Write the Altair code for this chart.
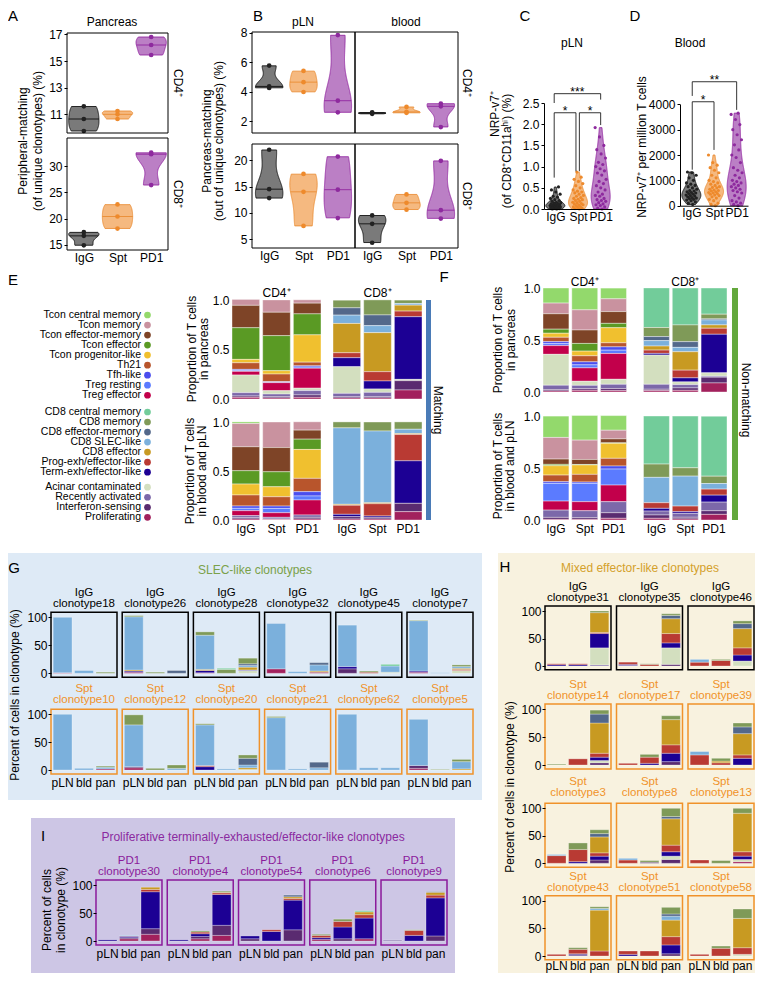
import altair as alt
import pandas as pd

# ------------------------------------------------------------------ layout
W, H = 747, 965
OX, OY = 8, 8
FONT = "Liberation Sans"

# ------------------------------------------------------------------ data
CELL_TYPES = [
    "Tcon central memory", "Tcon memory", "Tcon effector-memory", "Tcon effector",
    "Tcon progenitor-like", "Th21", "Tfh-like", "Treg resting", "Treg effector",
    "CD8 central memory", "CD8 memory", "CD8 effector-memory", "CD8 SLEC-like",
    "CD8 effector", "Prog-exh/effector-like", "Term-exh/effector-like",
    "Acinar contaminated", "Recently activated", "Interferon-sensing", "Proliferating",
]
ABBRS = ["TCM", "TM", "TEM", "TE", "TP", "TH21", "TFH", "TRR", "TRE",
         "C8CM", "C8M", "C8EM", "SLEC", "C8E", "PEX", "TEX",
         "AC", "RA", "IFN", "PRO"]
CELL_COLORS = ["#93d96c", "#c9929f", "#7e4427", "#5a9a24", "#f0c02f", "#b8552c",
               "#4a4dee", "#5b7bff", "#c2004b", "#72cc9a", "#7f9a58", "#53688a",
               "#7bb0dc", "#c89a22", "#b93a33", "#1c0094", "#d3dfbf", "#7c68a9",
               "#5a2b70", "#a2215d"]
GROUPS = ["IgG", "Spt", "PD1"]
GROUP_FILL = ["#222222", "#ee8a2c", "#8e2a9e"]
GROUP_LINE = ["#000000", "#e8862a", "#8b1a9b"]
TISSUES = ["pLN", "bld", "pan"]

# Panel A (pancreas, peripheral-matching %)
A_CD4 = {"IgG": [11.6, 10.65, 9.75], "Spt": [11.25, 11.0, 10.65], "PD1": [16.8, 16.2, 15.45]}
A_CD8 = {"IgG": [17.4, 16.7, 14.9], "Spt": [22.7, 20.4, 18.1], "PD1": [32.6, 32.3, 26.4]}
# Panel B (pancreas-matching %)
B_PLN_CD4 = {"IgG": [5.77, 4.36, 4.25], "Spt": [5.41, 4.65, 3.98], "PD1": [7.84, 3.39, 2.6]}
B_BLD_CD4 = {"IgG": [2.6, 2.55, 2.5], "Spt": [2.97, 2.63, 2.57], "PD1": [3.19, 3.01, 1.6]}
B_PLN_CD8 = {"IgG": [22.0, 14.5, 12.8], "Spt": [17.4, 14.0, 7.5], "PD1": [20.7, 14.4, 9.0]}
B_BLD_CD8 = {"IgG": [9.5, 7.9, 4.3], "Spt": [13.5, 11.9, 10.6], "PD1": [19.9, 10.5, 8.9]}
# Panel C (pLN, NRP-v7+ %)
C_PLN = {
    "IgG": [0.0, 0.0, 0.01, 0.02, 0.03, 0.03, 0.04, 0.05, 0.05, 0.06, 0.07, 0.08, 0.08, 0.09, 0.1, 0.1,
            0.11, 0.12, 0.13, 0.14, 0.15, 0.16, 0.18, 0.2, 0.22, 0.25, 0.28, 0.3, 0.35, 0.4, 0.45, 0.52],
    "Spt": [0.0, 0.01, 0.02, 0.04, 0.05, 0.06, 0.08, 0.1, 0.1, 0.12, 0.13, 0.15, 0.16, 0.18, 0.2, 0.22,
            0.23, 0.25, 0.27, 0.3, 0.32, 0.35, 0.38, 0.4, 0.42, 0.45, 0.5, 0.55, 0.6, 0.65, 0.7, 0.75, 0.87],
    "PD1": [0.0, 0.02, 0.05, 0.08, 0.1, 0.12, 0.15, 0.18, 0.2, 0.22, 0.25, 0.3, 0.32, 0.35, 0.4, 0.45,
            0.5, 0.55, 0.6, 0.65, 0.7, 0.8, 0.85, 0.9, 0.95, 1.0, 1.05, 1.1, 1.2, 1.3, 1.4, 1.5, 1.7, 1.92],
}
# Panel D (blood, NRP-v7+ per million T cells)
D_BLD = {
    "IgG": [50, 100, 150, 200, 220, 250, 280, 300, 320, 350, 380, 400, 420, 450, 480, 500, 520, 550,
            580, 600, 650, 700, 750, 800, 850, 900, 1000, 1100, 1200, 1300, 1330],
    "Spt": [0, 50, 100, 200, 250, 300, 350, 400, 420, 450, 480, 500, 520, 550, 580, 600, 620, 650, 700,
            720, 750, 800, 850, 900, 950, 1000, 1100, 1200, 1300, 1400, 1500, 1600, 1700, 2000],
    "PD1": [0, 50, 100, 150, 200, 300, 400, 500, 550, 600, 650, 700, 750, 800, 850, 900, 950, 1000,
            1100, 1200, 1300, 1400, 1500, 1700, 1900, 2000, 2200, 2400, 2600, 2800, 3000, 3200, 3400,
            3600, 3650],
}
# significance brackets: (x, x2, y, y2) and star labels (text, x, y)
C_BRACKETS = [(0.95, 3.0, 2.72, 2.72), (0.95, 0.95, 2.72, 2.50), (3.0, 3.0, 2.72, 2.58),
              (0.95, 1.91, 2.27, 2.27), (0.95, 0.95, 2.27, 0.74), (1.91, 1.91, 2.27, 0.89),
              (2.06, 3.0, 2.27, 2.27), (2.06, 2.06, 2.27, 0.89), (3.0, 3.0, 2.27, 1.98)]
C_STARS = [("***", 1.97, 2.72), ("*", 1.43, 2.27), ("*", 2.53, 2.27)]
D_BRACKETS = [(1.04, 3.0, 4890, 4890), (1.04, 1.04, 4890, 4330), (3.0, 3.0, 4890, 3780),
              (1.04, 2.0, 4100, 4100), (1.04, 1.04, 4100, 1420), (2.0, 2.0, 4100, 2200)]
D_STARS = [("**", 2.02, 4890), ("*", 1.52, 4100)]

# Panels E/F: cell-type proportions (fractions), in the order of these type lists
CD4_T = ["TCM", "TM", "TEM", "TE", "TP", "TH21", "TFH", "TRR", "TRE", "AC", "RA", "IFN", "PRO"]
CD8_T = ["C8CM", "C8M", "C8EM", "SLEC", "C8E", "PEX", "TEX", "AC", "RA", "IFN", "PRO"]
E_PAN_CD4 = {"IgG": [0, .06, .226, .32, .034, .067, .01, .01, .037, .178, .034, .013, .017],
             "Spt": [0, .125, .236, .354, .034, .077, .005, .005, .081, .034, .027, .013, .01],
             "PD1": [0, .034, .108, .212, .276, .037, .012, .012, .202, .024, .044, .024, .017]}
E_PAN_CD8 = {"IgG": [0, .077, .074, .084, .296, .05, .091, .269, .034, .013, .01],
             "Spt": [0, .152, .108, .071, .394, .094, .081, .034, .044, .013, .01],
             "PD1": [0, .034, 0, .017, .06, .057, .633, .013, 0, .094, .091]}
E_BLD_CD4 = {"IgG": [.017, .237, .244, .136, .112, .112, .024, .024, .051, 0, .02, .014, .01],
             "Spt": [0, .261, .247, .153, .102, .095, .024, .044, .047, 0, .017, .005, .005],
             "PD1": [0, .085, .092, .105, .295, .136, .044, .041, .153, 0, .024, .017, .01]}
E_BLD_CD8 = {"IgG": [0, .061, 0, .78, .01, .092, .024, 0, 0, .024, .01],
             "Spt": [0, .092, 0, .732, .01, .125, .014, 0, 0, .017, .01],
             "PD1": [0, .075, 0, .044, .01, .268, .434, 0, 0, .085, .085]}
F_PAN_CD4 = {"IgG": [.145, .103, .148, .039, .039, .042, .019, .019, .084, .297, .042, .013, .01],
             "Spt": [.21, .194, .129, .074, .045, .058, .029, .029, .129, .039, .032, .016, .016],
             "PD1": [.103, .123, .113, .042, .145, .039, .032, .032, .248, .048, .042, .019, .013]}
F_PAN_CD8 = {"IgG": [.381, .087, .039, .052, .039, .032, .016, .281, .048, .013, .013],
             "Spt": [.355, .161, .055, .042, .177, .074, .039, .026, .032, .023, .016],
             "PD1": [.252, .045, .01, .048, .032, .058, .371, .032, .01, .055, .087]}
F_BLD_CD4 = {"IgG": [.205, .208, .051, .013, .09, .064, .016, .17, .087, 0, .07, .019, .006],
             "Spt": [.237, .186, .048, .005, .09, .074, .013, .176, .087, 0, .067, .016, .006],
             "PD1": [.141, .083, .038, .005, .144, .074, .029, .154, .16, 0, .106, .054, .016]}
F_BLD_CD8 = {"IgG": [.462, .128, 0, .244, 0, .054, .026, 0, .038, .032, .016],
             "Spt": [.497, .08, 0, .288, 0, .054, .016, 0, .038, .016, .01],
             "PD1": [.577, .07, 0, .054, 0, .058, .067, 0, .083, .035, .054]}

# Panels G/H/I: clonotype composition (% of cells), per tissue (pLN, bld, pan)
G_IGG = [
    ("clonotype18", "PRO:1 SLEC:99", "SLEC:5", "C8M:2"),
    ("clonotype26", "PRO:2 TEX:2 C8E:2 SLEC:95 C8M:2", "C8M:2", "C8EM:5"),
    ("clonotype28", "PRO:1 TEX:4 C8E:2 SLEC:61 C8M:6", "C8M:7 C8CM:2", "AC:5 TEX:1 C8E:5 SLEC:3 C8EM:3 C8M:10"),
    ("clonotype32", "PRO:8 SLEC:81", "SLEC:3", "PRO:2 C8E:2 SLEC:11 C8EM:4"),
    ("clonotype45", "IFN:8 TEX:4 SLEC:74", "PEX:2 C8M:2", "AC:2 SLEC:11 C8CM:3"),
    ("clonotype7", "PRO:2 TEX:2 SLEC:90 C8M:1", "SLEC:1", "AC:5 PEX:2 C8E:2 SLEC:3 C8M:3"),
]
G_SPT = [
    ("clonotype10", "SLEC:100", "SLEC:3", "PRO:2 SLEC:3 C8M:2"),
    ("clonotype12", "PRO:4 IFN:2 SLEC:75 C8M:18", "C8M:3", "SLEC:3 C8M:6"),
    ("clonotype20", "TEX:6 PEX:2 SLEC:73 C8M:2", "SLEC:2", "AC:1 C8E:3 SLEC:5 C8EM:12 C8M:6"),
    ("clonotype21", "SLEC:94 C8M:2", "SLEC:2", "SLEC:4 C8EM:10"),
    ("clonotype62", "SLEC:100", "SLEC:4", "SLEC:4"),
    ("clonotype5", "PRO:3 IFN:5 SLEC:83", "C8M:1", "C8E:2 SLEC:13 C8M:4"),
]
H_IGG = [
    ("clonotype31", "PEX:2 TEX:2", "PEX:2 TEX:2", "RA:2 AC:31 TEX:26 PEX:2 C8E:36 C8M:3"),
    ("clonotype35", "RA:1 TEX:2 PEX:4", "PEX:3 C8M:1", "IFN:3 AC:30 TEX:9 PEX:17 C8E:27 C8EM:6 C8M:3"),
    ("clonotype46", "PEX:7 SLEC:5", "PEX:10 C8M:2", "AC:9 TEX:11 PEX:13 C8E:35 C8EM:9 C8M:5"),
]
H_SPT_1 = [
    ("clonotype14", "C8M:1.5", "PEX:11", "IFN:4 AC:4 TEX:6 PEX:7 C8E:54 C8EM:16 C8M:7"),
    ("clonotype17", "PEX:3", "TEX:3 PEX:11 C8M:5", "IFN:6 TEX:15 PEX:15 C8E:45 C8M:7"),
    ("clonotype39", "PEX:18 SLEC:6", "PEX:4 C8E:3 C8M:5", "TEX:12 PEX:6 C8E:38 C8EM:12 C8M:7"),
]
H_SPT_2 = [
    ("clonotype3", "PEX:14 SLEC:2", "TEX:3 PEX:22 C8M:12", "IFN:6 TEX:7 PEX:6 C8E:29 C8EM:6 C8M:7"),
    ("clonotype8", "PEX:6 SLEC:3", "IFN:2 C8M:3", "IFN:7 AC:6 TEX:8 PEX:12 C8E:48 C8EM:4 C8M:15"),
    ("clonotype13", "PEX:6", "C8M:5", "PRO:3 AC:4 TEX:6 PEX:8 C8E:70 C8M:9"),
]
H_SPT_3 = [
    ("clonotype43", "PEX:3", "RA:4 PEX:8 C8M:3", "PEX:9 C8E:74 SLEC:3 C8M:3"),
    ("clonotype51", "TEX:3 PEX:6", "PEX:9", "IFN:4 TEX:16 PEX:15 C8E:30 SLEC:7 C8EM:4 C8M:12"),
    ("clonotype58", "PEX:3", "PEX:14 C8M:4", "AC:3 PEX:12 C8E:53 C8M:17"),
]
I_PD1 = [
    ("clonotype30", "TEX:2", "PRO:4 IFN:2 PEX:1 TEX:2 SLEC:1", "PRO:12 IFN:10 TEX:66 PEX:4 C8E:4"),
    ("clonotype4", "TEX:2", "PRO:4 IFN:4 TEX:5 PEX:3 C8M:2", "PRO:10 IFN:18 TEX:55 PEX:3 C8E:1 C8M:2"),
    ("clonotype54", "IFN:4 TEX:5", "TEX:17 PEX:3", "IFN:20 TEX:53 PEX:3 C8E:3 C8EM:3"),
    ("clonotype6", "PRO:3 TEX:3 PEX:4 C8M:2", "IFN:4 TEX:21 PEX:10 C8M:4", "PRO:4 TEX:37 PEX:6 C8E:5 C8CM:2"),
    ("clonotype9", "RA:1.5", "TEX:10 PEX:9 C8M:1", "IFN:9 TEX:68 PEX:5 C8E:5 C8EM:1"),
]

# ------------------------------------------------------------------ helpers
FULL = dict(zip(ABBRS, CELL_TYPES))
ORD = {ct: len(CELL_TYPES) - 1 - i for i, ct in enumerate(CELL_TYPES)}
CSCALE = alt.Scale(domain=CELL_TYPES + GROUPS, range=CELL_COLORS + GROUP_FILL)
SSCALE = alt.Scale(domain=GROUPS, range=GROUP_LINE)
ONE = pd.DataFrame({"k": [0]})

SPT_C = "#f0922a"
PD1_C = "#8b1a9b"


def px(x):
    return max(0.0, min(W, x - OX))


def py(y):
    return max(0.0, min(H, y - OY))


def label(text, x, y, size=12, color="black", angle=0, align="center", lh=13):
    # for multi-line text, (x, y) is the position of the first line
    kw = dict(text=text, fontSize=size, color=color, align=align, baseline="middle",
              font=FONT, lineHeight=lh)
    if angle:
        kw["angle"] = angle
    return alt.Chart(ONE).mark_text(**kw).encode(x=alt.value(px(x)), y=alt.value(py(y)))


def rect(x1, y1, x2, y2, fill):
    return alt.Chart(ONE).mark_rect(color=fill, opacity=1).encode(
        x=alt.value(px(x1)), x2=alt.value(px(x2)), y=alt.value(py(y1)), y2=alt.value(py(y2)))


def frame(x1, y1, x2, y2, stroke="black", sw=1.0):
    return alt.Chart(ONE).mark_rect(fillOpacity=0, stroke=stroke, strokeWidth=sw).encode(
        x=alt.value(px(x1)), x2=alt.value(px(x2)), y=alt.value(py(y1)), y2=alt.value(py(y2)))


def yaxis(xref, values, fmt=None, domain=False, ticks=True, tick_size=3, pad=2):
    kw = dict(orient="left", offset=-(xref - OX), title=None, grid=False, domain=domain,
              ticks=ticks, labelPadding=pad, labelFontSize=12, values=values, zindex=1,
              labelFlush=False, labelOverlap=False)
    if ticks:
        kw["tickSize"] = tick_size
    if fmt:
        kw["format"] = fmt
    return alt.Axis(**kw)


def xaxis(yref, domain=False):
    return alt.Axis(orient="bottom", offset=(yref - OY) - H, title=None, grid=False,
                    domain=domain, ticks=False, labelPadding=2, labelFontSize=12,
                    values=[1, 2, 3], zindex=1, labelFlush=False, labelOverlap=False,
                    labelExpr="datum.value == 1 ? 'IgG' : (datum.value == 2 ? 'Spt' : 'PD1')")


def violin(data, xr, ybot, ytop, ydom, hw, yax=None, xax=None, median=True,
           psize=22, jitter=0.0, fop=0.6, brackets=None, stars=None):
    # every sibling layer carries the same axis definition so that they merge
    df = pd.DataFrame([{"grp": g, "gx": i + 1, "value": v}
                       for i, g in enumerate(GROUPS) for v in data[g]])
    xs = alt.Scale(domain=[0.5, 3.5], range=[xr[0] - OX, xr[1] - OX], nice=False, zero=False)
    ys = alt.Scale(domain=list(ydom), range=[ybot - OY, ytop - OY], nice=False, zero=False)
    base = alt.Chart(df)
    dens = (base.transform_joinaggregate(vmin="min(value)", vmax="max(value)",
                                         med="median(value)", groupby=["grp"])
            .transform_density("value", as_=["v", "dens"],
                               groupby=["grp", "gx", "vmin", "vmax", "med"],
                               extent=list(ydom), steps=400)
            .transform_filter("datum.v >= datum.vmin && datum.v <= datum.vmax")
            .transform_joinaggregate(dmax="max(dens)", groupby=["grp"])
            .transform_calculate(xl=f"datum.gx - datum.dens / datum.dmax * {hw}",
                                 xr=f"datum.gx + datum.dens / datum.dmax * {hw}"))
    layers = [dens.mark_area(orient="horizontal", fillOpacity=fop, strokeWidth=0.8).encode(
        y=alt.Y("v:Q", scale=ys, axis=yax),
        x=alt.X("xl:Q", scale=xs, axis=xax, stack=None),
        x2="xr:Q",
        color=alt.Color("grp:N", scale=CSCALE, legend=None),
        stroke=alt.Stroke("grp:N", scale=SSCALE, legend=None),
    )]
    if median:
        layers.append(
            dens.transform_calculate(diff="abs(datum.v - datum.med)")
            .transform_joinaggregate(mind="min(diff)", groupby=["grp"])
            .transform_filter("datum.diff == datum.mind")
            .mark_rule(strokeWidth=0.8)
            .encode(y=alt.Y("med:Q", scale=ys, axis=yax),
                    x=alt.X("xl:Q", scale=xs, axis=xax), x2="xr:Q",
                    stroke=alt.Stroke("grp:N", scale=SSCALE, legend=None)))
    if jitter:
        pb = base.transform_window(rn="row_number()", groupby=["grp"]).transform_calculate(
            xj=f"datum.gx + ((datum.rn * 0.618034) % 1 - 0.5) * {jitter}")
        xf = "xj:Q"
    else:
        pb = base
        xf = "gx:Q"
    layers.append(pb.mark_circle(size=psize, opacity=1).encode(
        x=alt.X(xf, scale=xs, axis=xax),
        y=alt.Y("value:Q", scale=ys, axis=yax),
        color=alt.Color("grp:N", scale=CSCALE, legend=None)))
    if brackets:
        bdf = pd.DataFrame(brackets, columns=["x", "x2", "y", "y2"])
        layers.append(alt.Chart(bdf).mark_rule(color="black", strokeWidth=0.8).encode(
            x=alt.X("x:Q", scale=xs, axis=xax), x2="x2:Q",
            y=alt.Y("y:Q", scale=ys, axis=yax), y2="y2:Q"))
    if stars:
        sdf = pd.DataFrame(stars, columns=["t", "x", "y"])
        layers.append(alt.Chart(sdf).mark_text(fontSize=12, baseline="alphabetic", dy=2,
                                               font=FONT).encode(
            x=alt.X("x:Q", scale=xs, axis=xax), y=alt.Y("y:Q", scale=ys, axis=yax),
            text="t:N"))
    return alt.layer(*layers)


def comp_block(cd4, cd8, xr, pin, ybot, ytop, axis_x, title_y=None, label_y=None):
    recs = []
    for g, d, types in (("CD4", cd4, CD4_T), ("CD8", cd8, CD8_T)):
        for t in GROUPS:
            for ab, v in zip(types, d[t]):
                if v > 0:
                    ct = FULL[ab]
                    recs.append({"grp": g, "treat": t, "ct": ct, "value": v, "ord": ORD[ct]})
    df = pd.DataFrame(recs)
    xs = alt.Scale(type="band", domain=["CD4", "CD8"], range=[xr[0] - OX, xr[1] - OX],
                   paddingInner=pin, paddingOuter=0)
    xo = alt.Scale(type="band", domain=GROUPS, paddingInner=0.1, paddingOuter=0)
    ys = alt.Scale(domain=[0, 1], range=[ybot - OY, ytop - OY], nice=False, zero=False)
    layers = [alt.Chart(df).mark_bar(stroke="white", strokeWidth=0.4).encode(
        x=alt.X("grp:N", scale=xs, axis=None),
        xOffset=alt.XOffset("treat:N", scale=xo),
        y=alt.Y("value:Q", stack="zero", scale=ys,
                axis=yaxis(axis_x, [0, 0.5, 1], fmt=".1f", ticks=False, pad=3)),
        color=alt.Color("ct:N", scale=CSCALE, legend=None),
        order=alt.Order("ord:Q", sort="ascending"))]
    if title_y:
        tdf = pd.DataFrame({"grp": ["CD4", "CD8"], "lbl": ["CD4⁺", "CD8⁺"]})
        layers.append(alt.Chart(tdf).mark_text(fontSize=12, font=FONT, baseline="middle").encode(
            x=alt.X("grp:N", scale=xs, axis=None), y=alt.value(title_y - OY), text="lbl:N"))
    if label_y:
        ldf = pd.DataFrame([{"grp": g, "treat": t} for g in ["CD4", "CD8"] for t in GROUPS])
        layers.append(alt.Chart(ldf).mark_text(fontSize=12, font=FONT, baseline="middle").encode(
            x=alt.X("grp:N", scale=xs, axis=None),
            xOffset=alt.XOffset("treat:N", scale=xo),
            y=alt.value(label_y - OY), text="treat:N"))
    return alt.layer(*layers)


def clono_block(rows, grp, xr, pin, y0, y100, title_y, label_y, title_color, box_color):
    recs = []
    for ci, (name, *tis) in enumerate(rows):
        for t, comp in zip(TISSUES, tis):
            for tok in comp.split():
                ab, v = tok.split(":")
                ct = FULL[ab]
                recs.append({"col": ci, "tissue": t, "ct": ct, "value": float(v), "ord": ORD[ct]})
    df = pd.DataFrame(recs)
    n = len(rows)
    per = (y0 - y100) / 100.0
    ytop_box = y100 - 9 * per
    ybot_box = y0 + 7 * per
    xs = alt.Scale(type="band", domain=list(range(n)), range=[xr[0] - OX, xr[1] - OX],
                   paddingInner=pin, paddingOuter=0)
    xo = alt.Scale(type="band", domain=TISSUES, paddingInner=0.12, paddingOuter=0.1)
    ys = alt.Scale(domain=[-7, 109], range=[ybot_box - OY, ytop_box - OY], nice=False, zero=False)
    layers = [alt.Chart(df).mark_bar(stroke="white", strokeWidth=0.3).encode(
        x=alt.X("col:O", scale=xs, axis=None),
        xOffset=alt.XOffset("tissue:N", scale=xo),
        y=alt.Y("value:Q", stack="zero", scale=ys,
                axis=yaxis(xr[0], [0, 50, 100], ticks=True, tick_size=3, pad=1)),
        color=alt.Color("ct:N", scale=CSCALE, legend=None),
        order=alt.Order("ord:Q", sort="ascending"))]
    bdf = pd.DataFrame({"col": list(range(n))})
    layers.append(alt.Chart(bdf).mark_rect(fillOpacity=0, stroke=box_color, strokeWidth=1.5).encode(
        x=alt.X("col:O", scale=xs, axis=None),
        y=alt.value(ytop_box - OY), y2=alt.value(ybot_box - OY)))
    tdf = pd.DataFrame({"col": list(range(n)), "lbl": [f"{grp}\n{r[0]}" for r in rows]})
    layers.append(alt.Chart(tdf).mark_text(fontSize=11.5, font=FONT, baseline="middle",
                                           lineBreak="\n", lineHeight=11,
                                           color=title_color).encode(
        x=alt.X("col:O", scale=xs, axis=None), y=alt.value(title_y - OY), text="lbl:N"))
    if label_y:
        ldf = pd.DataFrame([{"col": c, "tissue": t} for c in range(n) for t in TISSUES])
        layers.append(alt.Chart(ldf).mark_text(fontSize=12, font=FONT, baseline="middle").encode(
            x=alt.X("col:O", scale=xs, axis=None),
            xOffset=alt.XOffset("tissue:N", scale=xo),
            y=alt.value(label_y - OY), text="tissue:N"))
    return alt.layer(*layers)


def legend_block():
    recs = []
    for i, ct in enumerate(CELL_TYPES):
        gi = 0 if i < 9 else (1 if i < 16 else 2)
        recs.append({"ct": ct, "slot": i + [0, 0.67, 1.17][gi]})
    df = pd.DataFrame(recs)
    ys = alt.Scale(domain=[0, 20.17], range=[315 - OY, 517.3 - OY], nice=False, zero=False)
    txt = alt.Chart(df).mark_text(align="right", baseline="middle", fontSize=10.5, font=FONT).encode(
        x=alt.value(px(141)), y=alt.Y("slot:Q", scale=ys, axis=None), text="ct:N")
    dots = alt.Chart(df).mark_circle(size=45, opacity=1).encode(
        x=alt.value(px(147.5)), y=alt.Y("slot:Q", scale=ys, axis=None),
        color=alt.Color("ct:N", scale=CSCALE, legend=None))
    return alt.layer(txt, dots)


# ------------------------------------------------------------------ assemble
children = [
    rect(0, 553, 482, 800, "#deeaf6"),
    rect(498, 553, 763, 981, "#f8f2df"),
    rect(31, 818, 455, 973, "#cdc6e5"),
    rect(426, 300, 431, 520, "#4a7bb7"),
    rect(732, 288, 738, 520, "#63a83c"),
]

for t, x, y in [("A", 8, 16), ("E", 8, 280)]:
    children.append(label(t, x, y, size=15, align="left"))
for t, x, y in [("B", 258, 16), ("C", 525, 16), ("D", 635, 16), ("F", 444, 277),
                ("G", 14, 568), ("H", 505, 567), ("I", 43, 836)]:
    children.append(label(t, x, y, size=15))

children += [
    label("Pancreas", 112, 22), label("pLN", 303, 22), label("blood", 406, 22),
    label("pLN", 572, 43), label("Blood", 690, 43),
    label("CD4⁺", 178, 83, angle=90), label("CD8⁺", 178, 194, angle=90),
    label("CD4⁺", 467, 83, angle=90), label("CD8⁺", 467, 196, angle=90),
    label(["Peripheral-matching", "(of unique clonotypes) (%)"], 23, 141, angle=270, lh=15),
    label(["Pancreas-matching", "(out of unique clonotypes) (%)"], 207, 141, angle=270, lh=12),
    label("NRP-v7⁺", 495, 114, angle=270),
    label("(of CD8⁺CD11aʰⁱ) (%)", 507, 151, angle=270),
    label("NRP-v7⁺ per million T cells", 642, 147, angle=270),
    label(["Proportion of T cells", "in pancreas"], 192, 349, angle=270, lh=12),
    label(["Proportion of T cells", "in blood and pLN"], 190, 471, angle=270, lh=12),
    label(["Proportion of T cells", "in pancreas"], 498, 340, angle=270, lh=13),
    label(["Proportion of T cells", "in blood and pLN"], 498, 466, angle=270, lh=12),
    label("Matching", 438, 410, angle=90),
    label("Non-matching", 746, 400, angle=90),
    label("SLEC-like clonotypes", 255, 570, color="#7aa14a"),
    label("Mixed effector-like clonotypes", 640, 568, color="#d4a12b"),
    label("Proliferative terminally-exhausted/effector-like clonotypes", 253, 837, color="#8b2aa0"),
    label("Percent of cells in clonotype (%)", 15, 695, angle=270),
    label("Percent of cells in clonotype (%)", 510, 787, angle=270),
    label(["Percent of cells", "in clonotype (%)"], 47, 910, angle=270, lh=14),
]

# A
children += [
    violin(A_CD4, (67, 168), 133, 33, (9.6, 17.1), 0.45, yax=yaxis(67, [11, 13, 15, 17])),
    frame(67, 33, 168, 133),
    violin(A_CD8, (67, 168), 250, 138, (14.0, 35.4), 0.45, yax=yaxis(67, [15, 20, 25, 30]),
           xax=xaxis(250)),
    frame(67, 138, 168, 250),
]
# B
children += [
    violin(B_PLN_CD4, (252, 355), 133, 32, (1.2, 8.05), 0.4, yax=yaxis(252, [2, 4, 6, 8])),
    violin(B_BLD_CD4, (355, 458), 133, 32, (1.2, 8.05), 0.4),
    violin(B_PLN_CD8, (252, 355), 248, 144, (3.3, 23.1), 0.4, yax=yaxis(252, [5, 10, 15, 20]),
           xax=xaxis(248)),
    violin(B_BLD_CD8, (355, 458), 248, 144, (3.3, 23.1), 0.4, xax=xaxis(248)),
    frame(252, 32, 355, 133), frame(355, 32, 458, 133),
    frame(252, 144, 355, 248), frame(355, 144, 458, 248),
]
# C, D
children += [
    violin(C_PLN, (544, 612), 209, 103, (0.0, 2.5), 0.42,
           yax=yaxis(544, [0, 0.5, 1.0, 1.5, 2.0, 2.5], fmt=".1f", domain=True),
           xax=xaxis(209, domain=True), median=False, psize=10, jitter=0.5,
           brackets=C_BRACKETS, stars=C_STARS),
    violin(D_BLD, (680, 748), 205.7, 104.3, (0.0, 4000.0), 0.42,
           yax=yaxis(680, [0, 1000, 2000, 3000, 4000], fmt="d", domain=True),
           xax=xaxis(205.7, domain=True), median=False, psize=10, jitter=0.5,
           brackets=D_BRACKETS, stars=D_STARS),
]
# E legend + E/F bars
children += [
    legend_block(),
    comp_block(E_PAN_CD4, E_PAN_CD8, (232, 422), 0.119, 399, 300, 232, title_y=293),
    comp_block(E_BLD_CD4, E_BLD_CD8, (232, 422), 0.119, 520, 422, 232, label_y=529),
    comp_block(F_PAN_CD4, F_PAN_CD8, (543, 727), 0.169, 392, 288, 543, title_y=282),
    comp_block(F_BLD_CD4, F_BLD_CD8, (543, 727), 0.169, 520, 416, 543, label_y=529),
]
# G, H, I  (title_y = first title line)
children += [
    clono_block(G_IGG, "IgG", (51, 473), 0.073, 673.3, 617.3, 593, None, "black", "black"),
    clono_block(G_SPT, "Spt", (51, 473), 0.073, 770, 714.3, 689, 783, SPT_C, SPT_C),
    clono_block(H_IGG, "IgG", (545, 754), 0.077, 666, 611, 587, None, "black", "black"),
    clono_block(H_SPT_1, "Spt", (545, 754), 0.077, 765, 709, 685, None, SPT_C, SPT_C),
    clono_block(H_SPT_2, "Spt", (545, 754), 0.077, 863.3, 808.3, 782, None, SPT_C, SPT_C),
    clono_block(H_SPT_3, "Spt", (545, 754), 0.077, 956, 900.7, 877, 966, SPT_C, SPT_C),
    clono_block(I_PD1, "PD1", (96, 447), 0.074, 941, 885, 861, 954, PD1_C, PD1_C),
]

chart = (
    alt.layer(*children)
    .resolve_scale(x="independent", y="independent", xOffset="independent")
    .properties(width=W, height=H, padding=0, autosize=alt.AutoSizeParams(type="none"))
    .configure_view(stroke=None)
    .configure_axis(labelFont=FONT, labelColor="black", tickColor="black",
                    domainColor="black", grid=False, labelFontSize=12)
)

chart.save("out.html", embed_options={"renderer": "svg", "actions": False})
